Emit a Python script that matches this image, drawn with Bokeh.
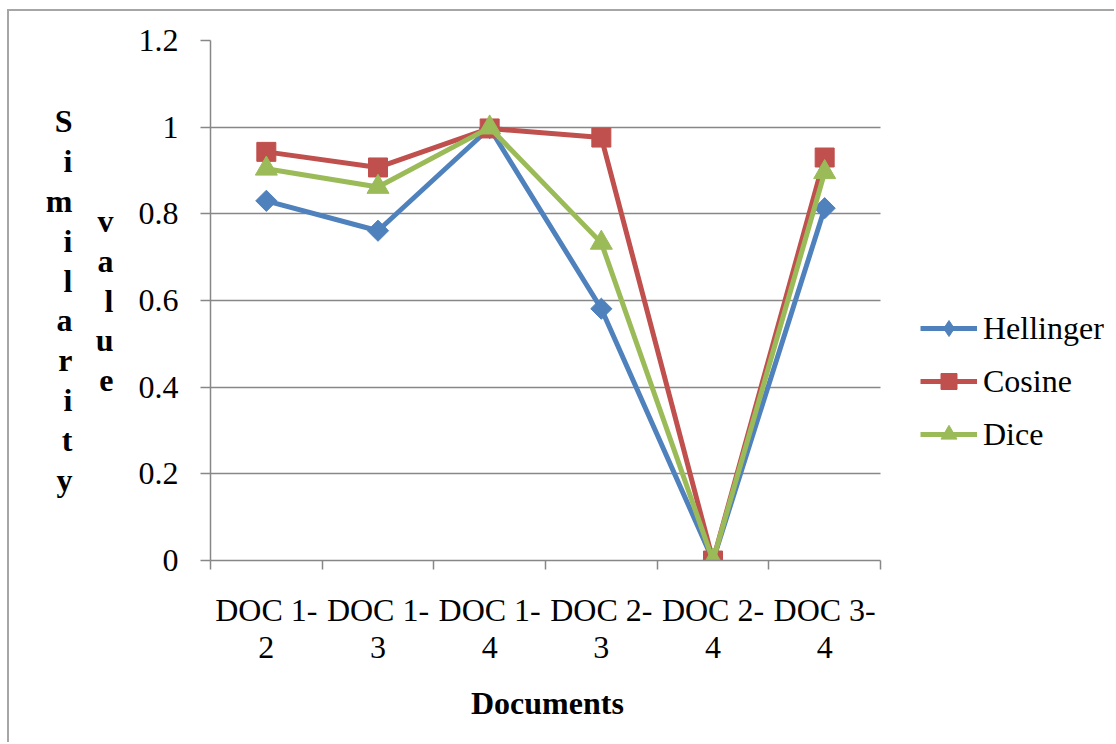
import math
from bokeh.plotting import figure
from bokeh.models import (FixedTicker, Legend, LegendItem, LinearAxis, Range1d, Title)
from bokeh.embed import file_html
from bokeh.resources import INLINE

categories = ["DOC 1-\n2", "DOC 1-\n3", "DOC 1-\n4", "DOC 2-\n3", "DOC 2-\n4", "DOC 3-\n4"]
hellinger = [0.830, 0.761, 0.998, 0.581, 0.0, 0.813]
cosine = [0.943, 0.907, 0.997, 0.976, 0.0, 0.930]
dice = [0.904, 0.862, 0.999, 0.733, 0.0, 0.896]
y_ticks = [0, 0.2, 0.4, 0.6, 0.8, 1.0, 1.2]
y_tick_labels = ["0", "0.2", "0.4", "0.6", "0.8", "1", "1.2"]
y_title_1 = "Similarity"
y_title_2 = "value"
x_title = "Documents"

FONT = "Liberation Serif"
FS = "32px"
GRID = "#878787"
BLUE, RED, GREEN = "#4F81BD", "#C0504D", "#9BBB59"

# page offset of the canvas (chart border drawn with CSS)
OX, OY = 9, 11
W, H = 1116 - OX, 744 - OY
L, R, T, B = 210 - OX, 880 - OX, 40 - OY, 560 - OY
n = len(categories)
# the frame runs to the canvas' right edge so the legend can live inside it;
# the plotted area (0..n) ends at page x = 880
x_end = n * (W - L) / (R - L)

p = figure(width=W, height=H, output_backend="svg", toolbar_location=None,
           x_range=Range1d(0, x_end), y_range=Range1d(0, 1.2),
           min_border_left=L, min_border_right=0, min_border_top=T,
           min_border_bottom=H - B)
p.styles = {"margin-left": "7px", "margin-top": "9px",
            "border-left": "2px solid #a6a6a6", "border-top": "2px solid #a6a6a6"}
p.outline_line_color = None
p.background_fill_color = "white"
p.border_fill_color = "white"

xs = [i + 0.5 for i in range(n)]

# x axis
xa = p.xaxis[0]
xa.bounds = (0, n)
xa.ticker = FixedTicker(ticks=xs, minor_ticks=list(range(n + 1)))
xa.major_label_overrides = {x: c for x, c in zip(xs, categories)}
xa.major_tick_out = 0
xa.major_tick_in = 0
xa.minor_tick_out = 9
xa.minor_tick_in = 0
xa.minor_tick_line_color = GRID
xa.minor_tick_line_width = 1.5
xa.axis_line_color = GRID
xa.axis_line_width = 1.5
xa.major_label_text_font = FONT
xa.major_label_text_font_size = FS
xa.major_label_text_color = "black"
xa.major_label_text_line_height = 1.04
xa.major_label_standoff = 22

# x title, centred under the plotted area (not the wider frame)
x_title_width = 153
p.add_layout(Title(text=x_title, text_font=FONT, text_font_size=FS,
                   text_font_style="bold", text_color="black", align="left",
                   offset=(547 - x_title_width / 2) - 210, standoff=30), "below")

# y axis
ya = p.yaxis[0]
ya.ticker = FixedTicker(ticks=y_ticks, minor_ticks=[])
ya.major_label_overrides = {t: s for t, s in zip(y_ticks, y_tick_labels)}
ya.major_tick_out = 10
ya.major_tick_in = 0
ya.major_tick_line_color = GRID
ya.major_tick_line_width = 1.5
ya.axis_line_color = GRID
ya.axis_line_width = 1.5
ya.major_label_text_font = FONT
ya.major_label_text_font_size = FS
ya.major_label_text_color = "black"
ya.major_label_standoff = 22

# stacked vertical axis titles as extra label-only axes
def title_axis(text, standoff):
    ax = LinearAxis(ticker=FixedTicker(ticks=[]), axis_line_color=None,
                    major_tick_line_color=None, minor_tick_line_color=None,
                    major_label_text_font_size="0px", major_tick_out=0,
                    major_tick_in=0, minor_tick_out=0, minor_tick_in=0,
                    major_label_standoff=0,
                    axis_label="\n".join(text), axis_label_orientation="horizontal",
                    axis_label_text_font=FONT, axis_label_text_font_size=FS,
                    axis_label_text_font_style="bold", axis_label_text_color="black",
                    axis_label_text_line_height=1.11, axis_label_text_align="center",
                    axis_label_standoff=standoff)
    p.add_layout(ax, "left")
    return ax

title_axis(y_title_2, 22)
title_axis(y_title_1, 20)

p.xgrid.grid_line_color = None
p.ygrid.ticker = FixedTicker(ticks=y_ticks[1:])
p.ygrid.cross_bounds = (0, n)
p.ygrid.grid_line_color = GRID
p.ygrid.grid_line_width = 1.5

# series
r_h_l = p.line(xs, hellinger, line_color=BLUE, line_width=5)
r_h_m = p.scatter(xs, hellinger, marker="square", size=15, angle=math.pi / 4,
                  fill_color=BLUE, line_color=BLUE)
r_c_l = p.line(xs, cosine, line_color=RED, line_width=5)
r_c_m = p.scatter(xs, cosine, marker="square", size=19, fill_color=RED, line_color=RED)
r_d_l = p.line(xs, dice, line_color=GREEN, line_width=5)
r_d_m = p.scatter(xs, dice, marker="triangle", size=22, fill_color=GREEN, line_color=GREEN)

# legend-only diamond glyph (legend glyphs ignore marker angle); its single
# point lies outside the visible ranges so it only appears in the legend
r_h_leg = p.scatter(x=[-100], y=[-100], marker="diamond", size=25,
                    fill_color=BLUE, line_color=BLUE)

legend = Legend(items=[
    LegendItem(label="Hellinger", renderers=[r_h_l, r_h_leg]),
    LegendItem(label="Cosine", renderers=[r_c_l, r_c_m]),
    LegendItem(label="Dice", renderers=[r_d_l, r_d_m]),
], location=(920 - 210, 106))
legend.label_text_font = FONT
legend.label_text_font_size = FS
legend.label_text_color = "black"
legend.glyph_width = 57
legend.glyph_height = 40
legend.label_height = 40
legend.spacing = 13
legend.padding = 0
legend.margin = 0
legend.label_standoff = 6
legend.border_line_color = None
legend.background_fill_alpha = 0
p.add_layout(legend, "center")

open("out.html", "w").write(file_html(p, INLINE))
